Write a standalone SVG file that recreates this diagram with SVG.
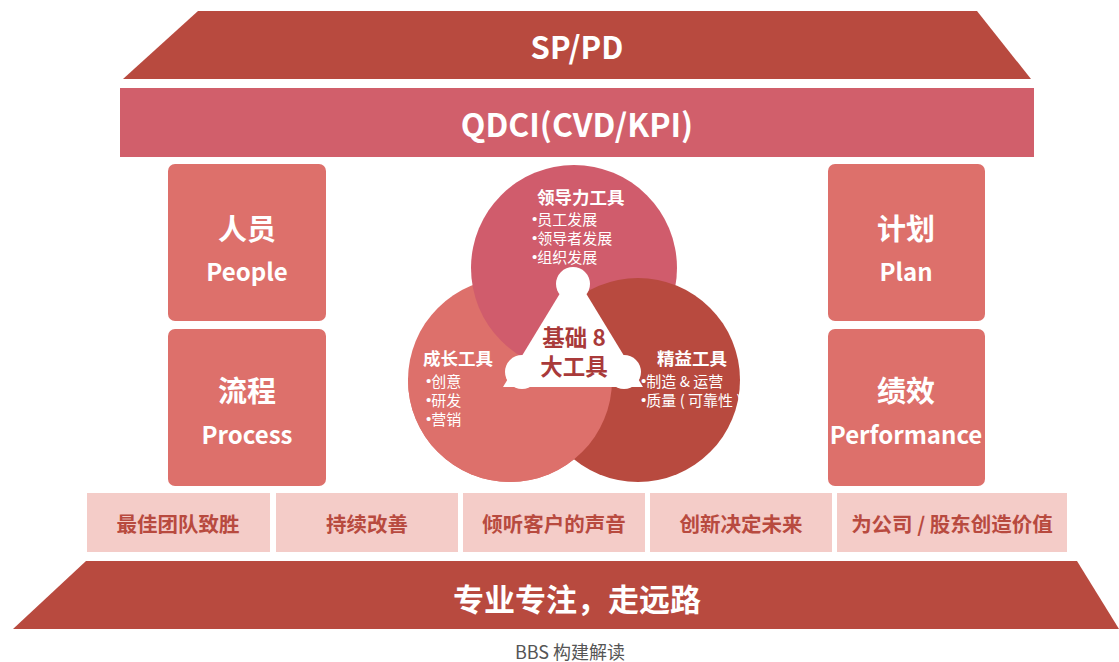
<svg xmlns="http://www.w3.org/2000/svg" width="1119" height="662" viewBox="0 0 1119 662">
<defs>
<style>
text{font-family:"Noto Sans CJK SC","Noto Sans",sans-serif;}
.w{fill:#ffffff;font-weight:bold;text-anchor:middle;dominant-baseline:central;}
.side{fill:#dd706b;}
.val{fill:#f4ccc8;}
.vt{fill:#b84a3f;font-weight:bold;font-size:20.5px;text-anchor:middle;dominant-baseline:central;}
.cl{fill:#ffffff;font-weight:bold;font-size:17.5px;dominant-baseline:central;}
.bl{fill:#ffffff;font-size:15px;dominant-baseline:central;}
.dot{font-family:"Liberation Sans",sans-serif;}
.ct{fill:#a93a3a;font-weight:bold;font-size:22.5px;text-anchor:middle;dominant-baseline:central;}
</style>
<clipPath id="lowclip"><rect x="400" y="378" width="300" height="120"/></clipPath>
</defs>
<rect width="1119" height="662" fill="#ffffff"/>
<g id="roof">
<polygon points="198,11 977,11 1031,79 123,79" fill="#b84a3f"/>
<text class="w" x="577" y="45" font-size="31">SP/PD</text>
</g>
<g id="qdci">
<rect x="120" y="88" width="914" height="69" fill="#d15f6b"/>
<text class="w" x="577" y="123" font-size="32">QDCI(CVD/KPI)</text>
</g>
<g id="people">
<rect class="side" x="168" y="164" width="158" height="157" rx="7"/>
<text class="w" x="247" y="227" font-size="29">人员</text>
<text class="w" x="247" y="270" font-size="24">People</text>
</g>
<g id="process">
<rect class="side" x="168" y="329" width="158" height="157" rx="7"/>
<text class="w" x="247" y="389" font-size="29">流程</text>
<text class="w" x="247" y="433" font-size="24">Process</text>
</g>
<g id="plan">
<rect class="side" x="828" y="164" width="157" height="157" rx="7"/>
<text class="w" x="906" y="227" font-size="29">计划</text>
<text class="w" x="906" y="270" font-size="24">Plan</text>
</g>
<g id="performance">
<rect class="side" x="828" y="329" width="157" height="157" rx="7"/>
<text class="w" x="906" y="389" font-size="29">绩效</text>
<text class="w" x="906" y="433" font-size="24">Performance</text>
</g>
<g id="tools">
<circle cx="510" cy="380" r="102" fill="#dd706b"/>
<circle cx="574" cy="268" r="103" fill="#d05c6c"/>
<circle cx="638" cy="380" r="102" fill="#b84a3f"/>
<circle cx="510" cy="380" r="102" fill="#dd706b" clip-path="url(#lowclip)"/>
<g id="center" fill="#ffffff">
<polygon points="573,272 503,387 643,387"/>
<circle cx="573" cy="284" r="17"/>
<circle cx="522" cy="372" r="17"/>
<circle cx="624" cy="372" r="17"/>
</g>
<text class="ct" x="574" y="336">基础 8</text>
<text class="ct" x="574" y="365">大工具</text>
<text class="cl" x="537" y="196">领导力工具</text>
<text class="bl" x="532" y="218"><tspan class="dot">•</tspan>员工发展</text>
<text class="bl" x="532" y="237"><tspan class="dot">•</tspan>领导者发展</text>
<text class="bl" x="532" y="256"><tspan class="dot">•</tspan>组织发展</text>
<text class="cl" x="423" y="357">成长工具</text>
<text class="bl" x="426" y="380"><tspan class="dot">•</tspan>创意</text>
<text class="bl" x="426" y="399"><tspan class="dot">•</tspan>研发</text>
<text class="bl" x="426" y="418"><tspan class="dot">•</tspan>营销</text>
<text class="cl" x="657" y="357">精益工具</text>
<text class="bl" x="641" y="380"><tspan class="dot">•</tspan>制造 &amp; 运营</text>
<text class="bl" x="641" y="399"><tspan class="dot">•</tspan>质量 ( 可靠性 )</text>
</g>
<g id="values">
<rect class="val" x="87" y="493" width="183" height="59"/>
<text class="vt" x="178" y="523">最佳团队致胜</text>
<rect class="val" x="276" y="493" width="182" height="59"/>
<text class="vt" x="367" y="523">持续改善</text>
<rect class="val" x="463" y="493" width="182" height="59"/>
<text class="vt" x="554" y="523">倾听客户的声音</text>
<rect class="val" x="650" y="493" width="182" height="59"/>
<text class="vt" x="741" y="523">创新决定未来</text>
<rect class="val" x="837" y="493" width="230" height="59"/>
<text class="vt" x="952" y="523">为公司 / 股东创造价值</text>
</g>
<g id="base">
<polygon points="86,561 1077,561 1119,629 13,629" fill="#b84a3f"/>
<text class="w" x="577" y="597" font-size="31">专业专注，走远路</text>
</g>
<text x="570" y="651" fill="#555555" font-size="18" text-anchor="middle" dominant-baseline="central">BBS 构建解读</text>
</svg>
